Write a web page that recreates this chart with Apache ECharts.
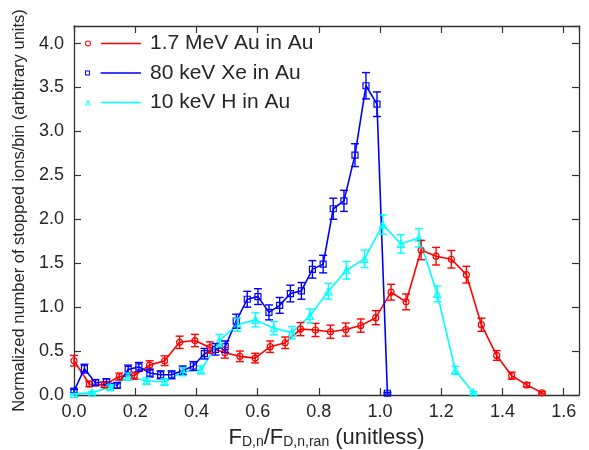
<!DOCTYPE html>
<html>
<head>
<meta charset="utf-8">
<script src="https://cdn.jsdelivr.net/npm/echarts@6/dist/echarts.min.js"></script>
<style>html,body{margin:0;padding:0;background:#fff}#c{width:589px;height:450px}</style>
</head>
<body>
<div id="c"></div>
<script>
// ---- data ----
const seriesNames = ['1.7 MeV Au in Au', '80 keV Xe in Au', '10 keV H in Au'];
const auX = [0, 0.05, 0.099, 0.148, 0.197, 0.247, 0.296, 0.345, 0.395, 0.444, 0.493, 0.542, 0.592, 0.641, 0.690, 0.740, 0.789, 0.838, 0.888, 0.937, 0.986, 1.036, 1.085, 1.134, 1.183, 1.233, 1.282, 1.331, 1.381, 1.430, 1.479, 1.529];
const auY = [0.39, 0.125, 0.115, 0.21, 0.22, 0.34, 0.39, 0.60, 0.62, 0.54, 0.48, 0.44, 0.42, 0.55, 0.595, 0.75, 0.74, 0.72, 0.745, 0.79, 0.88, 1.17, 1.06, 1.65, 1.58, 1.545, 1.37, 0.80, 0.45, 0.22, 0.115, 0.025];
const auErr = [0.06, 0.03, 0.03, 0.04, 0.04, 0.05, 0.055, 0.07, 0.07, 0.065, 0.06, 0.06, 0.055, 0.065, 0.065, 0.075, 0.075, 0.075, 0.075, 0.075, 0.08, 0.09, 0.09, 0.11, 0.10, 0.10, 0.095, 0.075, 0.055, 0.04, 0.025, 0.012];
const xeX = [0, 0.034, 0.07, 0.106, 0.141, 0.177, 0.212, 0.248, 0.283, 0.319, 0.355, 0.39, 0.426, 0.462, 0.494, 0.53, 0.566, 0.601, 0.637, 0.672, 0.707, 0.743, 0.779, 0.814, 0.847, 0.882, 0.918, 0.954, 0.99, 1.024];
const xeY = [0.045, 0.30, 0.14, 0.15, 0.11, 0.29, 0.32, 0.25, 0.23, 0.23, 0.28, 0.33, 0.47, 0.52, 0.55, 0.84, 1.09, 1.12, 0.94, 1.02, 1.155, 1.185, 1.43, 1.49, 2.12, 2.21, 2.73, 3.52, 3.31, 0.02];
const xeErr = [0.02, 0.05, 0.035, 0.035, 0.03, 0.05, 0.05, 0.045, 0.045, 0.045, 0.05, 0.05, 0.06, 0.065, 0.065, 0.08, 0.09, 0.09, 0.085, 0.09, 0.095, 0.095, 0.1, 0.1, 0.12, 0.12, 0.13, 0.15, 0.14, 0.01];
const hX = [0, 0.059, 0.118, 0.177, 0.237, 0.296, 0.356, 0.415, 0.475, 0.534, 0.593, 0.653, 0.712, 0.771, 0.831, 0.89, 0.949, 1.009, 1.068, 1.127, 1.187, 1.246, 1.305];
const hY = [0.01, 0.027, 0.09, 0.21, 0.16, 0.15, 0.265, 0.285, 0.62, 0.80, 0.855, 0.76, 0.71, 0.90, 1.18, 1.42, 1.55, 1.94, 1.72, 1.79, 1.15, 0.28, 0.026];
const hErr = [0.008, 0.012, 0.025, 0.04, 0.035, 0.035, 0.045, 0.045, 0.07, 0.075, 0.08, 0.075, 0.07, 0.08, 0.09, 0.1, 0.1, 0.11, 0.105, 0.105, 0.09, 0.045, 0.012];
const xTickLabels = ['0.0', '0.2', '0.4', '0.6', '0.8', '1.0', '1.2', '1.4', '1.6'];
const yTickLabels = ['0.0', '0.5', '1.0', '1.5', '2.0', '2.5', '3.0', '3.5', '4.0'];

// ---- styles ----
const colors = ['#ff0000', '#0000ff', '#00ffff'];
const symbols = ['circle', 'rect', 'triangle'];
const icons = [
  'path://M0,3A3,3 0 1,1 6,3A3,3 0 1,1 0,3ZM1,3A2,2 0 1,0 5,3A2,2 0 1,0 1,3ZM16,2.25L56,2.25L56,3.75L16,3.75Z',
  'path://M0.5,0.5L5.5,0.5L5.5,5.5L0.5,5.5ZM1.5,1.5L1.5,4.5L4.5,4.5L4.5,1.5ZM16,2.25L56,2.25L56,3.75L16,3.75Z',
  'path://M3,0L6,6L0,6ZM3,2.2L1.3,5.2L4.7,5.2ZM16,2.25L56,2.25L56,3.75L16,3.75Z'
];
const axisColor = '#333333';
const font = '"Liberation Sans", Arial, Helvetica, sans-serif';

function pts(xs, ys) { return xs.map((x, i) => [x, ys[i]]); }
function errs(xs, ys, es) { return xs.map((x, i) => [x, ys[i], es[i]]); }

function errSeries(data, color) {
  return {
    type: 'custom',
    data: data,
    z: 3,
    silent: true,
    renderItem: function (params, api) {
      const x = api.value(0), y = api.value(1), e = api.value(2);
      const top = api.coord([x, y + e]);
      const bot = api.coord([x, y - e]);
      const w = 4;
      const st = { stroke: color, lineWidth: 1.4 };
      return {
        type: 'group',
        children: [
          { type: 'line', shape: { x1: top[0], y1: top[1], x2: bot[0], y2: bot[1] }, style: st },
          { type: 'line', shape: { x1: top[0] - w, y1: top[1], x2: top[0] + w, y2: top[1] }, style: st },
          { type: 'line', shape: { x1: bot[0] - w, y1: bot[1], x2: bot[0] + w, y2: bot[1] }, style: st }
        ]
      };
    }
  };
}

function lineSeries(name, data, idx) {
  return {
    name: name,
    type: 'line',
    data: data,
    z: 2,
    symbol: symbols[idx],
    symbolSize: idx === 2 ? 7 : 6,
    showAllSymbol: true,
    lineStyle: { color: colors[idx], width: 1.6 },
    itemStyle: { color: 'rgba(255,255,255,0)', borderColor: colors[idx], borderWidth: 1.2 },
    emphasis: { disabled: true },
    animation: false
  };
}

const fmt = (v, labels) => {
  const s = v.toFixed(1);
  return labels.indexOf(s) >= 0 && Math.abs(v - parseFloat(s)) < 1e-6 ? s : '';
};

const axisCommon = {
  axisLine: { show: true, onZero: false, lineStyle: { color: axisColor, width: 1.3 } },
  axisTick: { show: true, inside: true, length: 7, lineStyle: { color: axisColor, width: 1.2 } },
  splitLine: { show: false }
};

const chart = echarts.init(document.getElementById('c'), null, { renderer: 'canvas' });
chart.setOption({
  animation: false,
  backgroundColor: '#ffffff',
  grid: { left: 74, right: 10, top: 26, bottom: 55, containLabel: false, outerBoundsMode: 'none' },
  legend: {
    orient: 'vertical',
    left: 80,
    top: 28,
    itemWidth: 56,
    itemHeight: 6,
    itemGap: 8.5,
    symbolKeepAspect: true,
    selectedMode: false,
    textStyle: { fontFamily: font, fontSize: 21, color: '#262626', padding: [0, 0, 0, 4] },
    data: seriesNames.map((n, i) => ({ name: n, icon: icons[i], itemStyle: { color: colors[i], borderWidth: 0 } }))
  },
  xAxis: [
    Object.assign({}, axisCommon, {
      type: 'value', min: 0, max: 1.65, interval: 0.2, position: 'bottom',
      axisLabel: { fontFamily: font, fontSize: 18, color: '#262626', margin: 8, showMaxLabel: false,
        formatter: v => fmt(v, xTickLabels) },
      name: '{f|F}{s|D,n}{f|/F}{s|D,n,ran}{f| (unitless)}',
      nameLocation: 'middle', nameGap: 29,
      nameTextStyle: { fontFamily: font, color: '#262626',
        rich: { f: { fontFamily: font, fontSize: 22, color: '#262626', verticalAlign: 'bottom', lineHeight: 25 },
                s: { fontFamily: font, fontSize: 14, color: '#262626', verticalAlign: 'bottom', lineHeight: 19 } } }
    }),
    Object.assign({}, axisCommon, {
      type: 'value', min: 0, max: 1.65, interval: 0.2, position: 'top',
      axisLabel: { show: false }
    })
  ],
  yAxis: [
    Object.assign({}, axisCommon, {
      type: 'value', min: 0, max: 4.2, interval: 0.5, position: 'left',
      axisLabel: { fontFamily: font, fontSize: 18, color: '#262626', margin: 10, showMaxLabel: false,
        formatter: v => fmt(v, yTickLabels) },
      name: 'Normalized number of stopped ions/bin (arbitrary units)',
      nameLocation: 'middle', nameGap: 44,
      nameTextStyle: { fontFamily: font, fontSize: 16.5, color: '#262626' }
    }),
    Object.assign({}, axisCommon, {
      type: 'value', min: 0, max: 4.2, interval: 0.5, position: 'right',
      axisLabel: { show: false }
    })
  ],
  series: [
    lineSeries(seriesNames[0], pts(auX, auY), 0),
    lineSeries(seriesNames[1], pts(xeX, xeY), 1),
    lineSeries(seriesNames[2], pts(hX, hY), 2),
    errSeries(errs(auX, auY, auErr), colors[0]),
    errSeries(errs(xeX, xeY, xeErr), colors[1]),
    errSeries(errs(hX, hY, hErr), colors[2])
  ]
});
</script>
</body>
</html>
